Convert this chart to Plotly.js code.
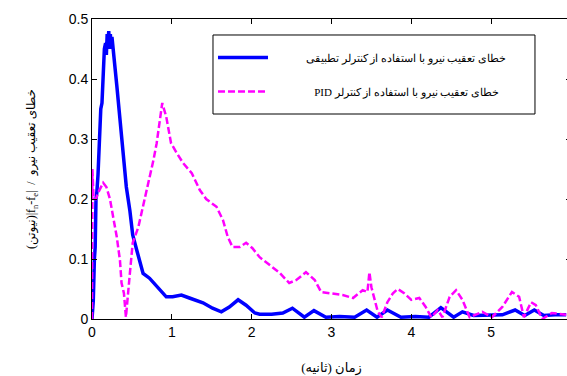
<!DOCTYPE html>
<html>
<head>
<meta charset="utf-8">
<script src="https://cdn.plot.ly/plotly-3.0.1.min.js"></script>
<style>
html, body { margin: 0; padding: 0; overflow: hidden; background: #fff; }
#chart { width: 574px; height: 376px; }
</style>
</head>
<body>
<div id="chart"></div>
<script>
// Adaptive controller force tracking error (blue, solid)
const adaptiveTime = [0, 0.004, 0.016, 0.03, 0.04, 0.05, 0.06, 0.075, 0.09, 0.11, 0.125, 0.135, 0.14, 0.15, 0.155, 0.17, 0.18, 0.19, 0.2, 0.21, 0.22, 0.23, 0.24, 0.25, 0.26, 0.28, 0.31, 0.35, 0.39, 0.43, 0.475, 0.51, 0.56, 0.62, 0.64, 0.72, 0.85, 0.93, 1.01, 1.12, 1.22, 1.39, 1.51, 1.62, 1.72, 1.83, 1.93, 2.04, 2.1, 2.25, 2.39, 2.51, 2.66, 2.78, 2.93, 3.1, 3.29, 3.44, 3.57, 3.7, 3.87, 4.05, 4.22, 4.37, 4.53, 4.64, 4.78, 4.95, 5.14, 5.3, 5.42, 5.54, 5.66, 5.8, 5.94];
const adaptiveError = [0, 0.005, 0.03, 0.1, 0.12, 0.2, 0.21, 0.24, 0.3, 0.35, 0.36, 0.4, 0.43, 0.44, 0.45, 0.46, 0.44, 0.475, 0.46, 0.48, 0.45, 0.475, 0.45, 0.47, 0.45, 0.43, 0.39, 0.33, 0.28, 0.22, 0.18, 0.14, 0.115, 0.082, 0.076, 0.068, 0.048, 0.037, 0.037, 0.04, 0.035, 0.027, 0.018, 0.012, 0.02, 0.032, 0.023, 0.01, 0.008, 0.008, 0.01, 0.018, 0.003, 0.014, 0.003, 0.004, 0.003, 0.015, 0.003, 0.015, 0.003, 0.004, 0.003, 0.019, 0.003, 0.012, 0.006, 0.006, 0.007, 0.015, 0.006, 0.015, 0.006, 0.007, 0.007];

// PID controller force tracking error (magenta, dashed)
const pidTime = [0, 0.005, 0.02, 0.05, 0.075, 0.14, 0.18, 0.225, 0.265, 0.31, 0.35, 0.37, 0.4, 0.425, 0.475, 0.51, 0.58, 0.64, 0.7, 0.77, 0.81, 0.85, 0.88, 0.93, 0.99, 1.06, 1.14, 1.25, 1.35, 1.43, 1.56, 1.64, 1.7, 1.76, 1.85, 1.93, 2.01, 2.1, 2.22, 2.35, 2.47, 2.56, 2.68, 2.79, 2.87, 3.01, 3.14, 3.27, 3.39, 3.45, 3.475, 3.5, 3.54, 3.58, 3.63, 3.7, 3.77, 3.83, 3.91, 4.0, 4.1, 4.18, 4.25, 4.33, 4.39, 4.48, 4.56, 4.64, 4.73, 4.89, 5.01, 5.14, 5.26, 5.35, 5.41, 5.5, 5.56, 5.64, 5.76, 5.94];
const pidError = [0, 0.25, 0.2, 0.2, 0.21, 0.227, 0.22, 0.2, 0.17, 0.137, 0.098, 0.06, 0.043, 0.003, 0.077, 0.127, 0.153, 0.187, 0.22, 0.265, 0.293, 0.33, 0.36, 0.337, 0.293, 0.277, 0.26, 0.243, 0.215, 0.2, 0.187, 0.165, 0.137, 0.12, 0.12, 0.127, 0.118, 0.103, 0.09, 0.077, 0.06, 0.065, 0.078, 0.065, 0.045, 0.043, 0.04, 0.035, 0.048, 0.045, 0.078, 0.053, 0.032, 0.012, 0.003, 0.028, 0.043, 0.05, 0.043, 0.032, 0.035, 0.02, 0.003, 0.015, 0.003, 0.037, 0.048, 0.032, 0.003, 0.012, 0.003, 0.02, 0.045, 0.037, 0.003, 0.028, 0.023, 0.0, 0.01, 0.007];

const seriesNames = ['خطای تعقیب نیرو با استفاده از کنترلر تطبیقی', 'خطای تعقیب نیرو با استفاده از کنترلر PID'];
const xTickValues = [0, 1, 2, 3, 4, 5, 6];
const yTickValues = [0, 0.1, 0.2, 0.3, 0.4, 0.5];
const xTitle = 'زمان (ثانیه)';
const yTitle = '(نیوتن)|f<sub>n</sub>-f<sub>e</sub>|  /  خطای تعقیب نیرو';

// right-to-left embedding so the Latin "PID" sits at the visual left like the original
const rtl = s => '\u202B' + s + '\u202C';
const legendPad = [12, 15];

const traces = [
  {
    x: adaptiveTime, y: adaptiveError, name: ' '.repeat(legendPad[0]) + rtl(seriesNames[0]),
    type: 'scatter', mode: 'lines', legendgroup: 'a',
    line: { color: '#0000ff', width: 3.5 }
  },
  {
    x: pidTime, y: pidError, name: ' '.repeat(legendPad[1]) + rtl(seriesNames[1]),
    type: 'scatter', mode: 'lines', legendgroup: 'b',
    line: { color: '#ff00ff', width: 2.5, dash: '7px,3px' }
  }
];

const axisCommon = {
  showgrid: false, zeroline: false, showline: true, linecolor: '#000', linewidth: 1,
  mirror: 'ticks', ticks: 'inside', ticklen: 5, tickcolor: '#000',
  tickfont: { family: 'Liberation Sans, Arial, sans-serif', size: 14, color: '#000' }
};

const layout = {
  width: 574, height: 376,
  margin: { l: 92, r: 3, t: 19, b: 57 },
  paper_bgcolor: '#fff', plot_bgcolor: '#fff',
  showlegend: true,
  legend: {
    x: 0.2526, y: 0.92, xanchor: 'left', yanchor: 'top',
    bgcolor: 'rgba(0,0,0,0)', borderwidth: 0,
    font: { family: 'Liberation Serif, DejaVu Serif, serif', size: 11, color: '#000' },
    tracegroupgap: 15, itemwidth: 50
  },
  shapes: [
    { type: 'rect', xref: 'paper', yref: 'paper', x0: 0.2526, x1: 0.9248, y0: 0.6833, y1: 0.9467,
      line: { color: '#000', width: 1 }, fillcolor: '#fff', layer: 'above' }
  ],
  xaxis: Object.assign({}, axisCommon, {
    range: [0, 6], tickvals: xTickValues, ticktext: xTickValues.map(String),
    title: { text: xTitle, standoff: 25, font: { family: 'Liberation Serif, DejaVu Sans, serif', size: 13, color: '#000' } }
  }),
  yaxis: Object.assign({}, axisCommon, {
    range: [0, 0.5], tickvals: yTickValues, ticktext: yTickValues.map(String),
    title: { text: yTitle, standoff: 30, font: { family: 'Liberation Serif, DejaVu Sans, serif', size: 12, color: '#000' } }
  })
};

Plotly.newPlot('chart', traces, layout, { staticPlot: true, displayModeBar: false });
</script>
</body>
</html>
